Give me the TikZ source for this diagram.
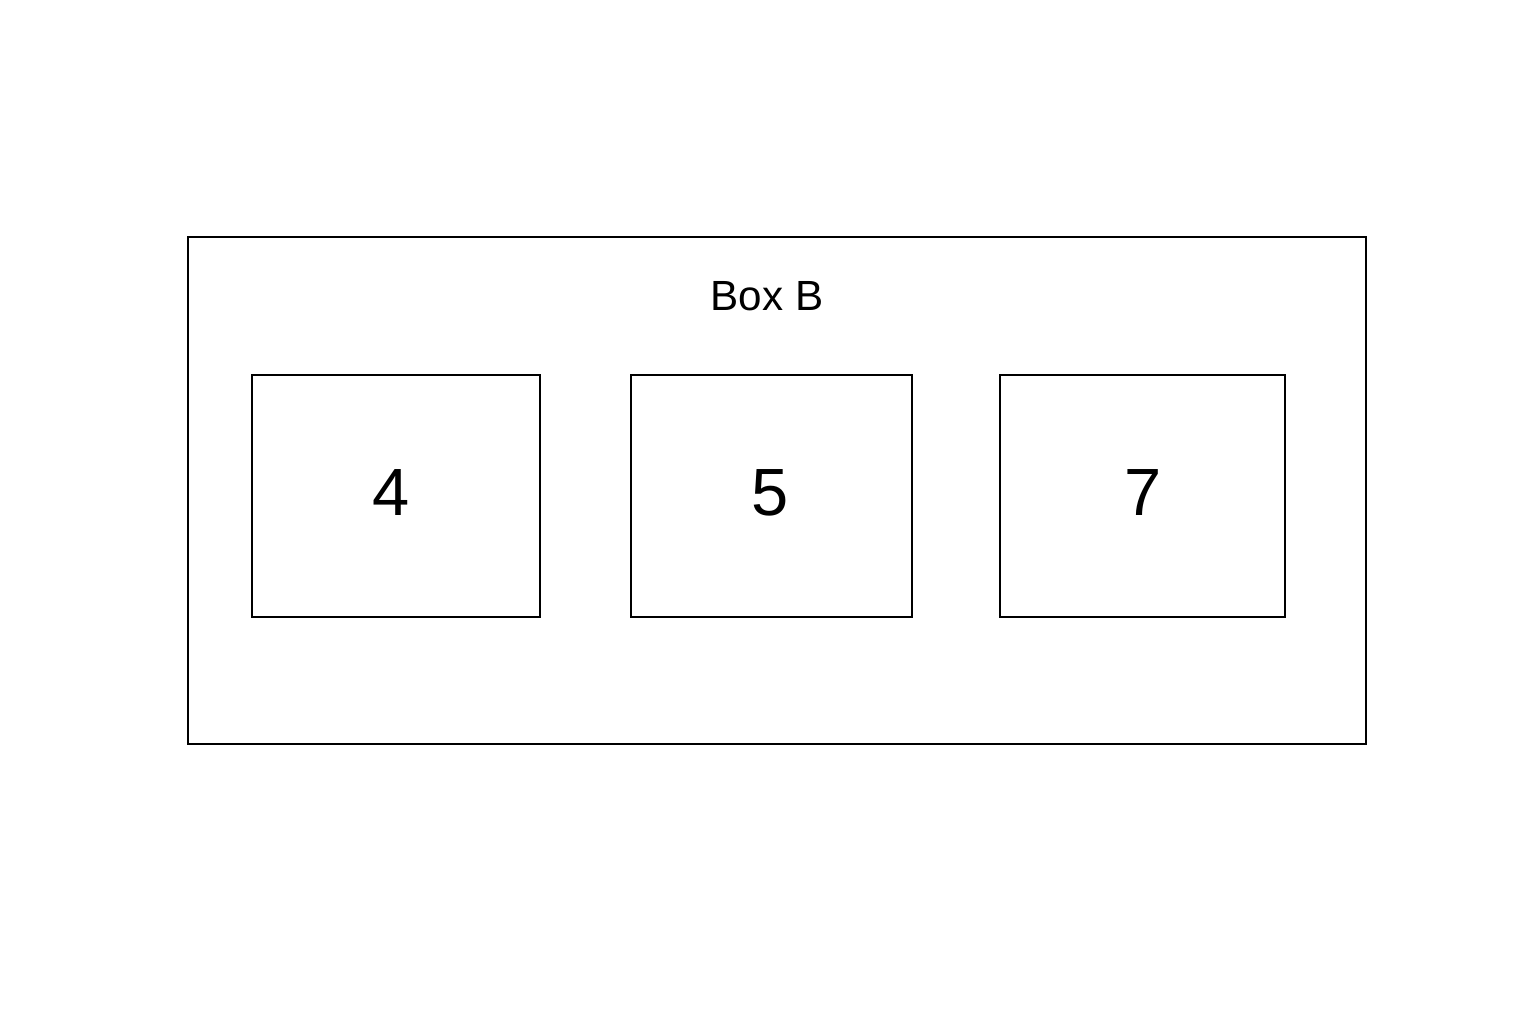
\documentclass[tikz,border=0pt]{standalone}
\usepackage{fontspec}
\setmainfont{Liberation Sans}
\begin{document}
\begin{tikzpicture}[x=0.01cm,y=-0.01cm,
  frame/.style={draw=black,line width=0.6pt},
  item/.style={draw=black,line width=0.6pt},
  num/.style={font=\fontsize{19}{23}\selectfont}]
\useasboundingbox (0,0) rectangle (1536,1024);
\draw[frame] (188,237) rectangle (1366,744);
\node[font=\fontsize{12}{14}\selectfont] (title) at (767,296) {Box B};
\draw[item] (252,375) rectangle (540,617);
\draw[item] (631,375) rectangle (912,617);
\draw[item] (1000,375) rectangle (1285,617);
\node[num] (n4) at (391,493) {4};
\node[num] (n5) at (770,493) {5};
\node[num] (n7) at (1143,493) {7};
\end{tikzpicture}
\end{document}
